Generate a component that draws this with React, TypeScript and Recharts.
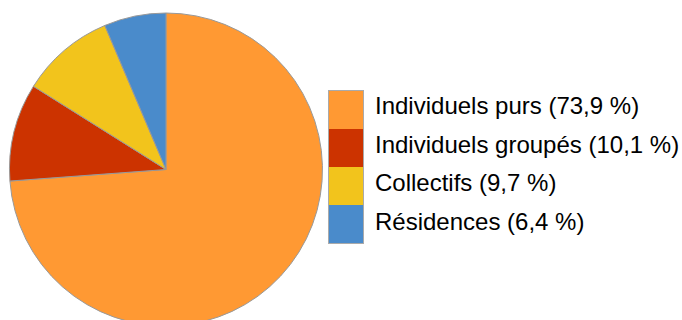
import { PieChart, Pie, Cell } from "recharts";

const categories = ["Individuels purs", "Individuels groupés", "Collectifs", "Résidences"];
const shares = [73.9, 10.1, 9.7, 6.4];
const colors = ["#FF9933", "#CC3300", "#F2C41C", "#4A8BCB"];

const data = categories.map((name, i) => ({ name, value: shares[i] }));

const fmt = (v: number) => v.toFixed(1).replace(".", ",");

function LegendBox() {
  return (
    <div
      style={{
        position: "absolute",
        left: 328,
        top: 90,
        display: "flex",
        fontFamily: "'Liberation Sans', Arial, sans-serif",
      }}
    >
      <div style={{ border: "1px solid #aaaaaa", width: 34 }}>
        {data.map((d, i) => (
          <div key={d.name} style={{ height: 38, background: colors[i] }} />
        ))}
      </div>
      <div style={{ marginLeft: 11 }}>
        {data.map((d) => (
          <div
            key={d.name}
            style={{ height: 38.5, fontSize: 24, lineHeight: "32px", color: "#000", whiteSpace: "nowrap" }}
          >
            {`${d.name} (${fmt(d.value)} %)`}
          </div>
        ))}
      </div>
    </div>
  );
}

export default function App() {
  return (
    <div style={{ position: "absolute", left: 0, top: 0, width: 682, height: 320, overflow: "hidden", background: "#fff" }}>
      <PieChart width={682} height={320} margin={{ top: 0, right: 0, bottom: 0, left: 0 }}>
        <Pie
          data={data}
          dataKey="value"
          nameKey="name"
          cx={166}
          cy={169.5}
          outerRadius={156.5}
          startAngle={90}
          endAngle={-270}
          stroke="#999999"
          strokeWidth={1}
          isAnimationActive={false}
        >
          {data.map((d, i) => (
            <Cell key={d.name} fill={colors[i]} />
          ))}
        </Pie>
      </PieChart>
      <LegendBox />
    </div>
  );
}
